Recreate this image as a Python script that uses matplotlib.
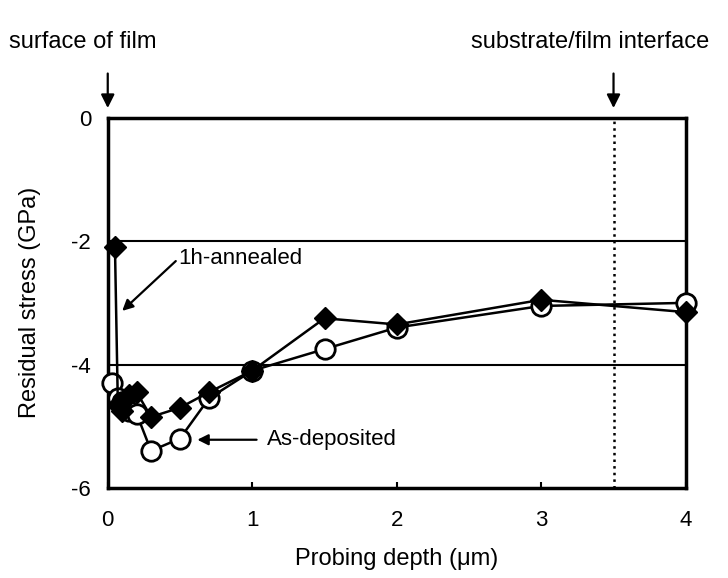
import matplotlib.pyplot as plt

plt.rcParams['font.family'] = ['Liberation Sans', 'DejaVu Sans']
plt.rcParams['axes.unicode_minus'] = False

# probing depth (um) and residual stress (GPa)
depth_ann = [0.05, 0.07, 0.1, 0.15, 0.2, 0.3, 0.5, 0.7, 1.0, 1.5, 2.0, 3.0, 4.0]
stress_ann = [-2.1, -4.65, -4.75, -4.5, -4.45, -4.85, -4.7, -4.45, -4.1, -3.25, -3.35, -2.95, -3.15]
depth_dep = [0.03, 0.07, 0.1, 0.15, 0.2, 0.3, 0.5, 0.7, 1.0, 1.5, 2.0, 3.0, 4.0]
stress_dep = [-4.3, -4.55, -4.6, -4.75, -4.8, -5.4, -5.2, -4.55, -4.1, -3.75, -3.4, -3.05, -3.0]

xticks = [0, 1, 2, 3, 4]
yticks = [0, -2, -4, -6]
interface = 3.5

fig = plt.figure(figsize=(7.28, 5.78), dpi=100)
ax = fig.add_axes([0.148, 0.156, 0.794, 0.640])

ax.axhline(-2, color='k', lw=1.5, zorder=1)
ax.axhline(-4, color='k', lw=1.5, zorder=1)
ax.axvline(interface, color='k', lw=1.8, ls=':', zorder=1)

ax.plot(depth_dep, stress_dep, '-o', color='k', lw=1.8, ms=14,
        mfc='white', mec='k', mew=2, zorder=3, clip_on=False)
ax.plot(depth_ann, stress_ann, '-D', color='k', lw=1.8, ms=11,
        mfc='k', mec='k', zorder=4, clip_on=False)

ax.set_xlim(0, 4)
ax.set_ylim(-6, 0)
ax.set_xticks(xticks)
ax.set_yticks(yticks)
ax.tick_params(direction='in', length=4, width=1.5, labelsize=16, pad=16)
ax.tick_params(axis='y', pad=12, length=0)
for s in ax.spines.values():
    s.set_linewidth(2.5)

ax.set_xlabel('Probing depth (\u03bcm)', fontsize=17, labelpad=12)
ax.set_ylabel('Residual stress (GPa)', fontsize=17, labelpad=22)

ax.annotate('1h-annealed', xy=(0.1, -3.13), xytext=(0.49, -2.28),
            fontsize=16, va='center', ha='left',
            arrowprops=dict(arrowstyle='-|>', color='k', lw=1.6,
                            mutation_scale=16, shrinkA=0, shrinkB=0,
                            relpos=(0, 0.5)))
ax.text(1.1, -5.22, 'As-deposited', fontsize=16, va='center', ha='left')
ax.annotate('', xy=(0.62, -5.22), xytext=(1.03, -5.22),
            arrowprops=dict(arrowstyle='-|>', color='k', lw=1.6,
                            mutation_scale=16, shrinkA=0, shrinkB=0))

# markers above the frame
ax.annotate('', xy=(0, 0.16), xytext=(0, 0.72), annotation_clip=False,
            arrowprops=dict(arrowstyle='-|>', color='k', lw=1.6,
                            mutation_scale=20, shrinkA=0, shrinkB=0))
ax.annotate('', xy=(interface, 0.16), xytext=(interface, 0.72), annotation_clip=False,
            arrowprops=dict(arrowstyle='-|>', color='k', lw=1.6,
                            mutation_scale=20, shrinkA=0, shrinkB=0))
ax.text(-0.17, 1.205, 'surface of film', fontsize=17, ha='center', va='center',
        transform=ax.get_xaxis_transform())
ax.text(3.34, 1.205, 'substrate/film interface', fontsize=17, ha='center', va='center',
        transform=ax.get_xaxis_transform())

fig.savefig('out.png', dpi=100)
